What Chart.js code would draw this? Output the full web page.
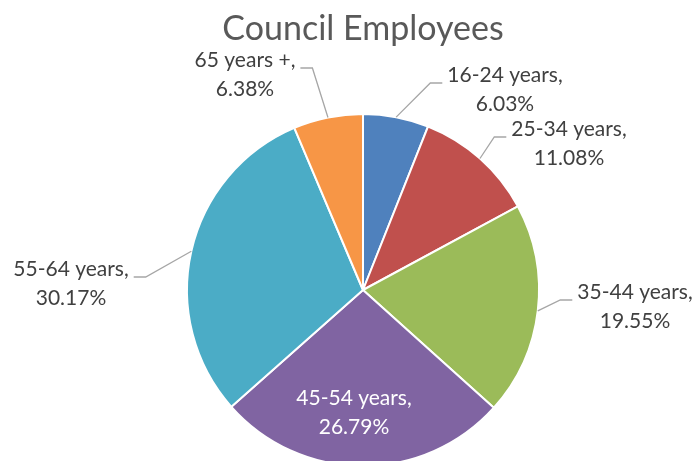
<!DOCTYPE html>
<html>
<head>
<meta charset="utf-8">
<script src="https://cdn.jsdelivr.net/npm/chart.js@4.4.1/dist/chart.umd.min.js"></script>
<style>
  html, body { margin: 0; padding: 0; background: #fff; overflow: hidden; }
  #wrap { position: relative; width: 695px; height: 475px; }
</style>
</head>
<body>
<div id="wrap"><canvas id="chart"></canvas></div>
<script>
const chartTitle = "Council Employees";
const categories = ["16-24 years", "25-34 years", "35-44 years", "45-54 years", "55-64 years", "65 years +"];
const shares = [6.03, 11.08, 19.55, 26.79, 30.17, 6.38];
const sliceColors = ["#4F81BD", "#C0504D", "#9BBB59", "#8064A2", "#4BACC6", "#F79646"];

// where each label block sits, relative to the pie centre
const labelSpots = [
  { dx: 142, dy: -200 },
  { dx: 206, dy: -146 },
  { dx: 272, dy: 17 },
  { dx: -9, dy: 123, inside: true },
  { dx: -292, dy: -6 },
  { dx: -118, dy: -215 },
];

const FONT_FAMILY = "Lato, 'Open Sans', sans-serif";

const pieLabels = {
  id: "pieLabels",
  afterDatasetsDraw(chart) {
    const ctx = chart.ctx;
    const arcs = chart.getDatasetMeta(0).data;
    ctx.save();
    ctx.font = "21px " + FONT_FAMILY;
    ctx.textAlign = "center";
    ctx.textBaseline = "middle";

    arcs.forEach((arc, i) => {
      const { x, y, startAngle, endAngle, outerRadius } = arc.getProps(
        ["x", "y", "startAngle", "endAngle", "outerRadius"], true);
      const spot = labelSpots[i];
      const cx = x + spot.dx;
      const cy = y + spot.dy;
      const lines = [categories[i] + ",", shares[i].toFixed(2) + "%"];

      if (!spot.inside) {
        // leader line: slice edge -> elbow -> short horizontal into the label
        const mid = (startAngle + endAngle) / 2;
        const ex = x + Math.cos(mid) * outerRadius;
        const ey = y + Math.sin(mid) * outerRadius;
        const w = Math.max(...lines.map((l) => ctx.measureText(l).width));
        const dir = cx > x ? -1 : 1;
        const endX = cx + dir * (w / 2 + 5);
        const elbowX = endX + dir * 12;
        const ly = cy - 7;
        ctx.strokeStyle = "#A6A6A6";
        ctx.lineWidth = 1.3;
        ctx.beginPath();
        ctx.moveTo(ex, ey);
        ctx.lineTo(elbowX, ly);
        ctx.lineTo(endX, ly);
        ctx.stroke();
      }

      ctx.fillStyle = spot.inside ? "#ffffff" : "#404040";
      ctx.fillText(lines[0], cx, cy - 14.5);
      ctx.fillText(lines[1], cx, cy + 14.5);
    });

    // title, centred over the pie
    const c = arcs[0];
    ctx.font = "34px " + FONT_FAMILY;
    ctx.fillStyle = "#595959";
    ctx.textBaseline = "alphabetic";
    ctx.fillText(chartTitle, c.x, 40);
    ctx.restore();
  },
};

new Chart(document.getElementById("chart"), {
  type: "pie",
  data: {
    labels: categories,
    datasets: [
      {
        data: shares,
        backgroundColor: sliceColors,
        borderColor: "#ffffff",
        borderWidth: 2,
      },
    ],
  },
  options: {
    responsive: true,
    maintainAspectRatio: false,
    animation: false,
    layout: { padding: { left: 186, right: 155, top: 113, bottom: 8 } },
    plugins: {
      legend: { display: false },
      tooltip: { enabled: false },
      title: { display: false },
    },
  },
  plugins: [pieLabels],
});
</script>
</body>
</html>
